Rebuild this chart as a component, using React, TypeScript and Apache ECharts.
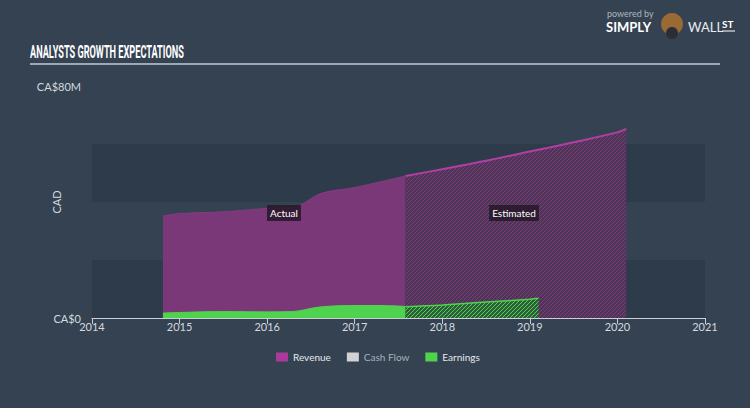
import React, { useEffect, useRef } from "react";
import * as echarts from "echarts";

const yearTicks = [2014, 2015, 2016, 2017, 2018, 2019, 2020, 2021];
const revenueActualX = [2014.81, 2015.0, 2015.5, 2016.0, 2016.28, 2016.62, 2017.0, 2017.58];
const revenueActual = [35.2, 36.0, 36.6, 37.8, 38.0, 43.0, 45.0, 49.0];
const revenueEstX = [2017.58, 2018.0, 2018.5, 2019.0, 2019.5, 2020.0, 2020.1];
const revenueEst = [49.0, 51.3, 54.2, 57.4, 60.6, 64.0, 65.2];
const earningsActualX = [2014.81, 2015.0, 2015.5, 2016.0, 2016.28, 2016.6, 2017.0, 2017.3, 2017.58];
const earningsActual = [1.7, 1.9, 2.2, 2.1, 2.2, 3.8, 4.3, 4.3, 4.0];
const earningsEstX = [2017.58, 2018.0, 2018.5, 2019.0, 2019.1];
const earningsEst = [3.9, 4.5, 5.5, 6.5, 6.8];
const yMin = 0;
const yMax = 80;
const yStep = 20;
const titleText = "ANALYSTS GROWTH EXPECTATIONS";

const pairs = (xs: number[], ys: number[]) => xs.map((x, i) => [x, ys[i]]);

function hatch(base: string, line: string) {
  const c = document.createElement("canvas");
  c.width = 4;
  c.height = 4;
  const ctx = c.getContext("2d")!;
  ctx.fillStyle = base;
  ctx.fillRect(0, 0, 4, 4);
  ctx.fillStyle = line;
  for (let i = 0; i < 4; i++) ctx.fillRect(3 - i, i, 1, 1);
  return { image: c, repeat: "repeat", imageWidth: 4, imageHeight: 4 } as any;
}

function measure(text: string, font: string) {
  const c = document.createElement("canvas");
  const ctx = c.getContext("2d")!;
  ctx.font = font;
  return ctx.measureText(text).width || 1;
}

export default function App() {
  const ref = useRef<HTMLDivElement>(null);
  useEffect(() => {
    const chart = echarts.init(ref.current!, null, { renderer: "svg" });
    const font = "Lato, 'Open Sans', sans-serif";
    const titleFont = "bold 18px Roboto, sans-serif";
    const titleScale = 154 / measure(titleText, titleFont);
    const smooth = 0.35;
    const option: any = {
      animation: false,
      backgroundColor: "#344252",
      textStyle: { fontFamily: font },
      grid: { left: 92, right: 45, top: 86, bottom: 90 },
      legend: {
        top: 347,
        left: 271,
        itemWidth: 12,
        itemHeight: 9,
        itemGap: 16,
        icon: "rect",
        textStyle: { color: "#e6e9ed", fontSize: 10, fontFamily: font },
        data: [
          { name: "Revenue", itemStyle: { color: "#a93a9c" } },
          { name: "Cash Flow", itemStyle: { color: "#d2d2d2" }, textStyle: { color: "#a9b1ba" } },
          { name: "Earnings", itemStyle: { color: "#4fd34f" } },
        ],
      },
      xAxis: {
        type: "value",
        min: yearTicks[0],
        max: yearTicks[yearTicks.length - 1],
        interval: 1,
        axisLine: { lineStyle: { color: "#c9ced4", width: 1 } },
        axisTick: { show: true, length: 6, lineStyle: { color: "#c9ced4" } },
        axisLabel: { color: "#d5d9de", fontSize: 11, margin: 3, formatter: (v: number) => String(v) },
        splitLine: { show: false },
      },
      yAxis: {
        type: "value",
        min: yMin,
        max: yMax,
        interval: yStep,
        name: "CAD",
        nameLocation: "middle",
        nameGap: 30,
        nameMoveOverlap: false,
        nameTextStyle: { color: "#d5d9de", fontSize: 11 },
        axisLine: { show: false },
        axisTick: { show: false },
        splitLine: { show: false },
        splitArea: { show: true, areaStyle: { color: ["#2e3b4a", "rgba(0,0,0,0)"] } },
        axisLabel: {
          color: "#d5d9de",
          fontSize: 11,
          margin: 11,
          formatter: (v: number) => (v === yMin ? "CA$0" : v === yMax ? "CA$80M" : ""),
        },
      },
      series: [
        {
          name: "Revenue",
          type: "line",
          data: pairs(revenueActualX, revenueActual),
          showSymbol: false,
          smooth,
          itemStyle: { color: "#a93a9c" },
          lineStyle: { color: "#853b83", width: 1 },
          areaStyle: { color: "#7b3878", opacity: 1 },
          z: 2,
        },
        {
          name: "Revenue Estimate",
          type: "line",
          data: pairs(revenueEstX, revenueEst),
          showSymbol: false,
          smooth,
          itemStyle: { color: "#a93a9c" },
          lineStyle: { color: "#b13fa3", width: 2 },
          areaStyle: { color: hatch("#4e3558", "#7d3d78"), opacity: 1 },
          z: 2,
        },
        {
          name: "Cash Flow",
          type: "line",
          data: [],
          itemStyle: { color: "#d2d2d2" },
        },
        {
          name: "Earnings",
          type: "line",
          data: pairs(earningsActualX, earningsActual),
          showSymbol: false,
          smooth,
          itemStyle: { color: "#4fd34f" },
          lineStyle: { color: "#4fd34f", width: 1 },
          areaStyle: { color: "#4fd34f", opacity: 1 },
          z: 3,
        },
        {
          name: "Earnings Estimate",
          type: "line",
          data: pairs(earningsEstX, earningsEst),
          showSymbol: false,
          smooth,
          itemStyle: { color: "#4fd34f" },
          lineStyle: { color: "#4fd34f", width: 1.5 },
          areaStyle: { color: hatch("#2f5e3c", "#4fd34f"), opacity: 1 },
          z: 3,
        },
      ],
      graphic: [
        {
          type: "text",
          x: 30,
          y: 61,
          scaleX: titleScale,
          style: {
            text: titleText,
            fill: "#ffffff",
            font: titleFont,
            verticalAlign: "bottom",
          },
        },
        {
          type: "line",
          shape: { x1: 30, y1: 64, x2: 720, y2: 64 },
          style: { stroke: "#c5ccd4", lineWidth: 1.5 },
        },
        {
          type: "text",
          left: 607,
          top: 9,
          style: { text: "powered by", fill: "#aeb6bf", font: `9px ${font}` },
        },
        {
          type: "text",
          left: 606,
          top: 20,
          style: { text: "SIMPLY", fill: "#ffffff", font: `bold 13px ${font}` },
        },
        {
          type: "circle",
          shape: { cx: 672, cy: 24, r: 11 },
          style: { fill: "#9a6a35" },
        },
        {
          type: "circle",
          shape: { cx: 672, cy: 33, r: 6 },
          style: { fill: "#2a2f36" },
        },
        {
          type: "text",
          left: 688,
          top: 20,
          style: { text: "WALL", fill: "#e8ecef", font: `13px ${font}` },
        },
        {
          type: "text",
          left: 722,
          top: 19,
          style: { text: "ST", fill: "#ffffff", font: `bold 10px ${font}` },
        },
        {
          type: "line",
          shape: { x1: 722, y1: 31, x2: 735, y2: 31 },
          style: { stroke: "#ffffff", lineWidth: 1 },
        },
        {
          type: "text",
          x: 284,
          y: 213,
          style: {
            text: "Actual",
            fill: "#ffffff",
            font: `10px ${font}`,
            align: "center",
            verticalAlign: "middle",
            backgroundColor: "rgba(38,24,40,0.85)",
            padding: [3, 3],
          },
          z: 10,
        },
        {
          type: "text",
          x: 514,
          y: 213,
          style: {
            text: "Estimated",
            fill: "#ffffff",
            font: `10px ${font}`,
            align: "center",
            verticalAlign: "middle",
            backgroundColor: "rgba(38,24,40,0.85)",
            padding: [3, 3],
          },
          z: 10,
        },
      ],
    };
    chart.setOption(option);
    return () => chart.dispose();
  }, []);
  return <div ref={ref} style={{ position: "fixed", left: 0, top: 0, width: 750, height: 408 }} />;
}
